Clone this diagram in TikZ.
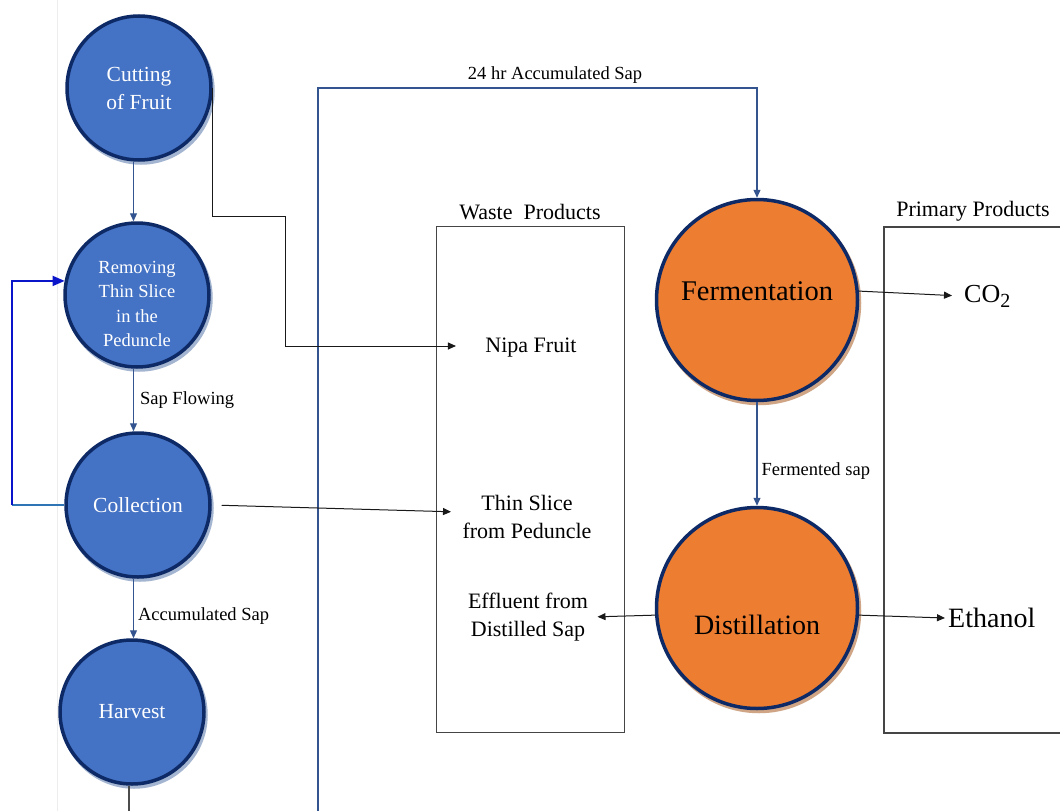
\documentclass[tikz,border=0pt]{standalone}
\usepackage{fontspec}
\setmainfont{Liberation Serif}
\usetikzlibrary{arrows.meta,shadows}
\definecolor{bfill}{HTML}{4472C4}
\definecolor{navy}{HTML}{0E2A66}
\definecolor{ofill}{HTML}{ED7D31}
\definecolor{bshadow}{HTML}{A3B5D0}
\definecolor{oshadow}{HTML}{CFA585}
\definecolor{cblue}{HTML}{34548F}
\definecolor{loopblue}{HTML}{0A14C8}
\definecolor{loopblue2}{HTML}{2E75B6}
\definecolor{boxgray}{HTML}{454545}
\begin{document}
\begin{tikzpicture}[x=1pt,y=-1pt,
  bcirc/.style={circle, draw=navy, line width=3.5pt, fill=bfill, minimum size=144pt,
    inner sep=0pt, text=white, align=center, font=\fontsize{21.5}{28}\selectfont,
    drop shadow={shadow xshift=2pt, shadow yshift=-3pt, opacity=1, fill=bshadow, draw=bshadow, line width=3.5pt}},
  ocirc/.style={circle, draw=navy, line width=3.5pt, fill=ofill, minimum size=201pt,
    inner sep=0pt, font=\fontsize{28}{32}\selectfont,
    drop shadow={shadow xshift=2pt, shadow yshift=-3pt, opacity=1, fill=oshadow, draw=oshadow, line width=3.5pt}},
  bline/.style={draw=cblue, line width=1.2pt, -{Triangle[length=8pt,width=7pt]}},
  kline/.style={draw=black!90, line width=1pt, -{Triangle[length=8pt,width=7pt]}},
  lab/.style={font=\fontsize{18.5}{22}\selectfont, inner sep=2pt},
  txt/.style={align=center, font=\fontsize{22}{28}\selectfont},
  ttl/.style={font=\fontsize{22}{26}\selectfont},
  wbox/.style={draw=boxgray, line width=1.5pt, inner sep=0pt},
]
\useasboundingbox (0,0) rectangle (1060,811);
\clip (0,0) rectangle (1060,811);
\fill[white] (0,0) rectangle (1060,811);
\draw[black!7, line width=0.8pt] (57,0) -- (57,811);

% boxes
\node[wbox, minimum width=188pt, minimum height=506pt] (wbx) at (530.5,479.5) {};
\node[wbox, minimum width=300pt, minimum height=506pt, anchor=north west] (pbx) at (883,226) {};
\node[ttl] (wt) at (530,212) {Waste\ \ Products};
\node[ttl] (pt) at (973,211) {Primary Products};

% blue circles
\node[bcirc] (cut) at (139,88) {Cutting\\of Fruit};
\node[bcirc, label={[text=white, align=center, font=\fontsize{18.5}{24.5}\selectfont, yshift=-9pt]center:Removing\\Thin Slice\\in the\\Peduncle}] (rem) at (137,295) {};
\node[bcirc] (coll) at (138,505) {Collection};
\node[bcirc] (harv) at (132,712) {Harvest};

% orange circles
\node[ocirc, label={[font=\fontsize{28.5}{32}\selectfont, yshift=9pt]center:Fermentation}] (ferm) at (757,300) {};
\node[ocirc, label={[font=\fontsize{28}{32}\selectfont, yshift=-17pt]center:Distillation}] (dist) at (757,608) {};

% text nodes
\node[txt] (nipa) at (531,348) {Nipa Fruit};
\node[txt] (thin) at (527,517) {Thin Slice\\from Peduncle};
\node[txt] (eff) at (528,617) {Effluent from\\Distilled Sap};
\node[anchor=west, inner sep=3pt, font=\fontsize{26}{30}\selectfont] (co2) at (961,296) {CO\raisebox{-5pt}{\fontsize{20}{22}\selectfont 2}};
\node[anchor=west, inner sep=3pt, font=\fontsize{28}{32}\selectfont] (eth) at (945,618) {Ethanol};

% coordinates
\coordinate (s0) at (318,811);
\coordinate (s1) at (318,88);
\coordinate (k1) at (285,216);
\coordinate (lx) at (12,400);
\coordinate (hb) at (129,811);
\coordinate (ax) at (133.5,400);

% left column connectors
\draw[bline] (cut.south -| ax) -- (rem.north -| ax);
\draw[bline] (rem.south -| ax) -- node[lab, right=4pt, pos=0.5] {Sap Flowing} (coll.north -| ax);
\draw[bline] (coll.south -| ax) -- node[lab, right=2pt, pos=0.62] {Accumulated Sap} (harv.north -| ax);
\draw[draw=black!70, line width=1.2pt] (harv.south -| hb) -- (hb);

% feedback loop
\draw[draw=loopblue2, line width=1.6pt] (coll.west) -- (coll.west -| lx);
\draw[draw=loopblue, line width=1.8pt, -{Triangle[length=12pt,width=10pt]}] (coll.west -| lx) |- (rem.169);

% long sap line
\draw[bline] (s0) -- (s1) -| node[lab, pos=0.27, above=2pt] {24 hr Accumulated Sap} (ferm.north);

% waste arrows
\draw[kline, shorten >=26pt] (cut.east) |- (k1) |- ([yshift=2pt]nipa.west);
\draw[kline, shorten <=10pt, shorten >=8pt] (coll.east) -- ([yshift=5pt]thin.west);
\draw[kline, shorten >=6pt] (dist.184) -- (eff.east);

% fermentation / distillation
\draw[bline] (ferm.south) -- node[lab, right=2pt, pos=0.66] {Fermented sap} (dist.north);
\draw[kline, shorten >=9pt] (ferm.5) -- (co2.west);
\draw[kline] (dist.-4) -- (eth.west);
\end{tikzpicture}
\end{document}
